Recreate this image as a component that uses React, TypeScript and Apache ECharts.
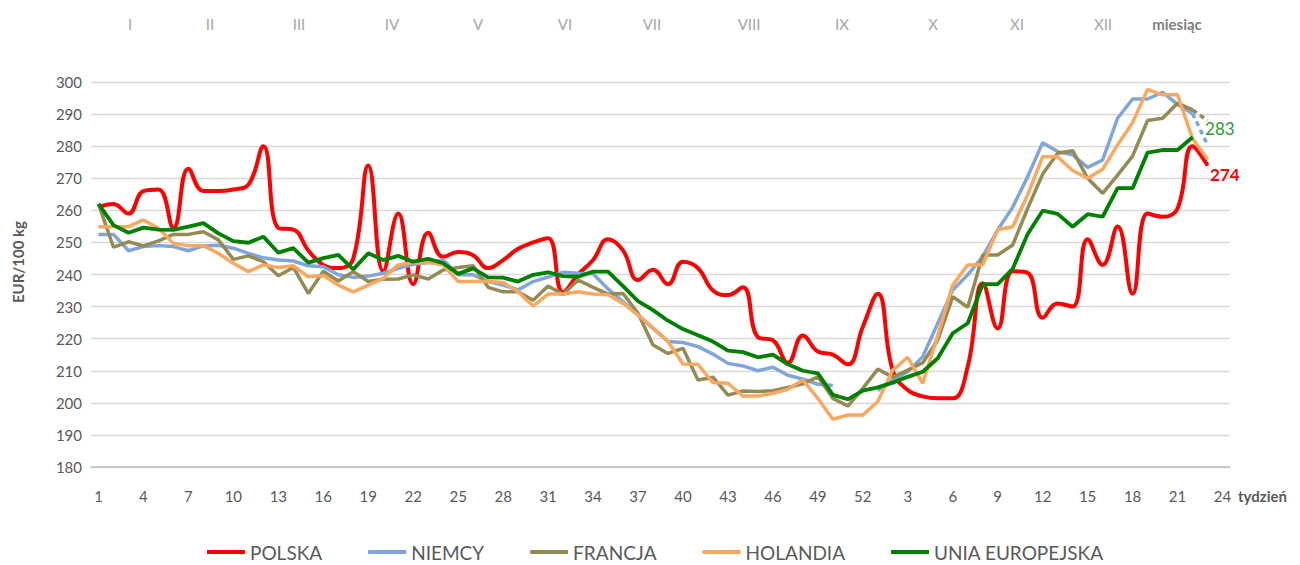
import React, { useEffect, useRef } from "react";
import * as echarts from "echarts";

// week labels: weeks 1..52 of year one, then 1..24 of year two
const weeks: string[] = [
  ...Array.from({ length: 52 }, (_, i) => String(i + 1)),
  ...Array.from({ length: 24 }, (_, i) => String(i + 1)),
];

const polska: (number | null)[] = [
  261, 262, 259, 266, 266.5, 254.5, 273, 266, 266, 266.5,
  268, 280, 254.5, 254, 247.5, 243, 242, 245, 274, 241,
  259, 237, 253, 245.5, 247, 246, 242, 244.5, 248, 250,
  251.3, 234.5, 240, 244.5, 251, 247.5, 238.3, 241.5, 237, 244,
  242, 235, 233.6, 236, 220.5, 219.5, 212.5, 221, 216, 215,
  212, 223.7, 234, 210, 204, 202, 201.4, 201.4, 211.3, 237.3,
  223.2, 241, 240.5, 226.5, 231, 230, 251, 243, 255, 234,
  259, 258, 260.6, 280, 274, null,
];

const niemcy: (number | null)[] = [
  252.5, 252.5, 247.4, 248.7, 249, 248.7, 247.4, 248.9, 249.1, 248.2,
  246.6, 245.2, 244.5, 244.2, 242.7, 242.4, 239.9, 239.1, 239.5, 240.4,
  241.9, 243.2, 243.7, 244.5, 239.9, 239.9, 237.8, 236.7, 235.2, 237.8,
  239.2, 240.7, 240.4, 240.2, 235.5, 231.5, 227.4, 223.2, 219.1, 218.8,
  217.5, 215.2, 212.3, 211.5, 210, 211.1, 208.6, 207.4, 205.8, 205.4,
  null, null, 203.8, 207.1, 209.7, 214.4, 224.8, 235.2, 239.9, 245.6,
  253.9, 261, 270.5, 281.1, 278.3, 277.3, 273.4, 275.7, 288.7, 294.7,
  294.7, 296.8, 293, 290.2, null, null,
];
// estimated (dashed) end segment
const niemcyEst: (number | null)[] = [...Array(73).fill(null), 290.2, 280.4, null];

const francja: (number | null)[] = [
  262, 248.5, 250.2, 248.9, 250.5, 252.5, 252.5, 253.3, 250.8, 244.7,
  245.8, 244, 239.6, 242.2, 234.1, 241, 238, 240.9, 237.8, 238.5,
  238.6, 239.9, 238.6, 241.4, 242.2, 242.7, 236, 234.6, 234.6, 232,
  236.4, 233.8, 238.3, 236, 233.9, 234.1, 227.9, 218, 215.4, 217,
  207.1, 208, 202.4, 203.7, 203.5, 203.8, 204.8, 205.9, 208.1, 201.4,
  199, 204.5, 210.5, 208, 210.2, 212.5, 219.6, 233.1, 229.8, 246.1,
  246.1, 249.2, 260.6, 271.3, 277.8, 278.6, 270, 265.3, 271, 276.9,
  288, 288.7, 293.4, 291.3, null, null,
];
const francjaEst: (number | null)[] = [...Array(73).fill(null), 291.3, 288, null];

const holandia: (number | null)[] = [
  254.9, 254.9, 254.9, 257, 254.4, 249.7, 249, 249, 246.6, 243.5,
  240.9, 243, 242.2, 242.7, 239.3, 239.7, 236.7, 234.6, 236.7, 238.8,
  243, 243.7, 243.7, 243, 237.8, 237.8, 237.8, 237.5, 234.6, 230.2,
  233.9, 233.9, 234.6, 233.9, 233.7, 231, 227.4, 223.4, 219.1, 212.1,
  212, 206.3, 206.1, 202.1, 202.1, 203, 204.2, 207.1, 201.4, 194.9,
  196.2, 196.2, 200.4, 210.2, 214.2, 206.1, 221, 236.7, 243, 243,
  254, 254.9, 264.8, 276.7, 276.7, 272.4, 270, 272.8, 280.4, 287.3,
  297.7, 296, 296, 282.4, 275.9, null,
];

const ue: (number | null)[] = [
  262, 255.4, 253, 254.6, 254, 253.9, 254.9, 256, 252.8, 250.4,
  249.9, 251.8, 246.8, 248.2, 243.7, 245.1, 246.1, 241.6, 246.6, 244.5,
  245.8, 244, 244.9, 243.5, 240.2, 241.9, 239.1, 239, 237.8, 239.9,
  240.7, 239.5, 239.3, 240.9, 240.9, 236.4, 231.7, 228.9, 225.6, 223,
  221.1, 219.1, 216.3, 215.8, 214.2, 215, 212, 210, 209.2, 202.5,
  201.1, 203.8, 204.8, 206.3, 208.1, 209.7, 213.9, 221.7, 224.8, 237,
  237, 241.8, 252.6, 259.9, 258.9, 254.9, 258.8, 258, 266.9, 266.9,
  278, 278.8, 278.8, 282.8, null, null,
];

const months = ["I", "II", "III", "IV", "V", "VI", "VII", "VIII", "IX", "X", "XI", "XII"];
const monthX = [130, 210, 299, 392, 478, 565, 652, 749, 842, 933, 1017, 1103];

const FONT = "Lato, 'Open Sans', sans-serif";

function lastIndex(arr: (number | null)[]): number {
  for (let i = arr.length - 1; i >= 0; i--) if (arr[i] != null) return i;
  return -1;
}

function withEndLabel(arr: (number | null)[], label: any, color: string) {
  const li = lastIndex(arr);
  return arr.map((v, i) =>
    i === li
      ? { value: v, symbol: "circle", symbolSize: 1, itemStyle: { color }, label: { show: true, ...label } }
      : v
  );
}

export default function App() {
  const ref = useRef<HTMLDivElement>(null);
  useEffect(() => {
    if (!ref.current) return;
    const chart = echarts.init(ref.current, null, { renderer: "svg" });
    const lineSeries = (name: string, data: any[], color: string, width: number, extra: any = {}) => ({
      name,
      type: "line",
      data,
      symbol: "none",
      showSymbol: true,
      showAllSymbol: true,
      connectNulls: false,
      lineStyle: { color, width },
      itemStyle: { color },
      emphasis: { disabled: true },
      ...extra,
    });
    const option: any = {
      animation: false,
      textStyle: { fontFamily: FONT },
      grid: { left: 91, right: 70, top: 82, bottom: 98, containLabel: false },
      xAxis: {
        type: "category",
        data: weeks,
        boundaryGap: true,
        axisLine: { lineStyle: { color: "#BFBFBF", width: 1.5 } },
        axisTick: { show: false },
        axisLabel: { interval: 2, color: "#595959", fontSize: 15, margin: 21, fontFamily: FONT },
        splitLine: { show: false },
      },
      yAxis: {
        type: "value",
        min: 180,
        max: 300,
        interval: 10,
        axisLine: { show: false },
        axisTick: { show: false },
        axisLabel: { color: "#595959", fontSize: 15, margin: 9, fontFamily: FONT },
        splitLine: { lineStyle: { color: "#D9D9D9", width: 1.3 } },
      },
      legend: {
        data: ["POLSKA", "NIEMCY", "FRANCJA", "HOLANDIA", "UNIA EUROPEJSKA"],
        left: 207,
        top: 541,
        padding: 0,
        icon: "rect",
        itemWidth: 38,
        itemHeight: 4,
        itemGap: 46,
        textStyle: { color: "#595959", fontSize: 19, fontFamily: FONT, lineHeight: 22 },
      },
      graphic: [
        ...months.map((m, i) => ({
          type: "text",
          x: monthX[i],
          y: 24,
          style: { text: m, fill: "#A6A6A6", font: `15px ${FONT}`, align: "center", verticalAlign: "middle" },
        })),
        {
          type: "text",
          x: 1177,
          y: 24,
          style: { text: "miesiąc", fill: "#7F7F7F", font: `bold 15px ${FONT}`, align: "center", verticalAlign: "middle" },
        },
        {
          type: "text",
          x: 1238,
          y: 496,
          style: { text: "tydzień", fill: "#595959", font: `bold 15px ${FONT}`, align: "left", verticalAlign: "middle" },
        },
        {
          type: "text",
          x: 18,
          y: 262,
          rotation: Math.PI / 2,
          style: { text: "EUR/100 kg", fill: "#595959", font: `bold 15px ${FONT}`, align: "center", verticalAlign: "middle" },
        },
      ],
      series: [
        lineSeries(
          "POLSKA",
          withEndLabel(polska, {
            position: "right",
            distance: 2,
            offset: [0, 9],
            color: "#FF0000",
            fontWeight: "bold",
            fontSize: 17,
            fontFamily: FONT,
            formatter: (p: any) => String(Math.round(p.value)),
          }, "#FF0000"),
          "#FF0000",
          4,
          { smooth: 0.45, z: 2 }
        ),
        lineSeries("NIEMCY", niemcy, "#7FA6DA", 3.5, { z: 3 }),
        lineSeries("NIEMCY prognoza", niemcyEst, "#7FA6DA", 3.5, { z: 3, lineStyle: { color: "#7FA6DA", width: 3.5, type: [5, 4] } }),
        lineSeries("FRANCJA", francja, "#948A54", 3.5, { z: 4 }),
        lineSeries("FRANCJA prognoza", francjaEst, "#948A54", 3.5, { z: 4, lineStyle: { color: "#948A54", width: 3.5, type: [5, 4] } }),
        lineSeries("HOLANDIA", holandia, "#F8A85F", 3.5, { z: 5 }),
        lineSeries(
          "UNIA EUROPEJSKA",
          withEndLabel(ue, {
            position: "right",
            distance: 12,
            offset: [0, -9],
            color: "#2E9A2E",
            fontSize: 17,
            fontFamily: FONT,
            formatter: (p: any) => String(Math.round(p.value)),
          }, "#008000"),
          "#008000",
          3.8,
          { z: 6 }
        ),
      ],
    };
    chart.setOption(option);
    return () => chart.dispose();
  }, []);
  return (
    <div
      ref={ref}
      style={{ position: "fixed", left: 0, top: 0, width: 1300, height: 565, background: "#fff" }}
    />
  );
}
